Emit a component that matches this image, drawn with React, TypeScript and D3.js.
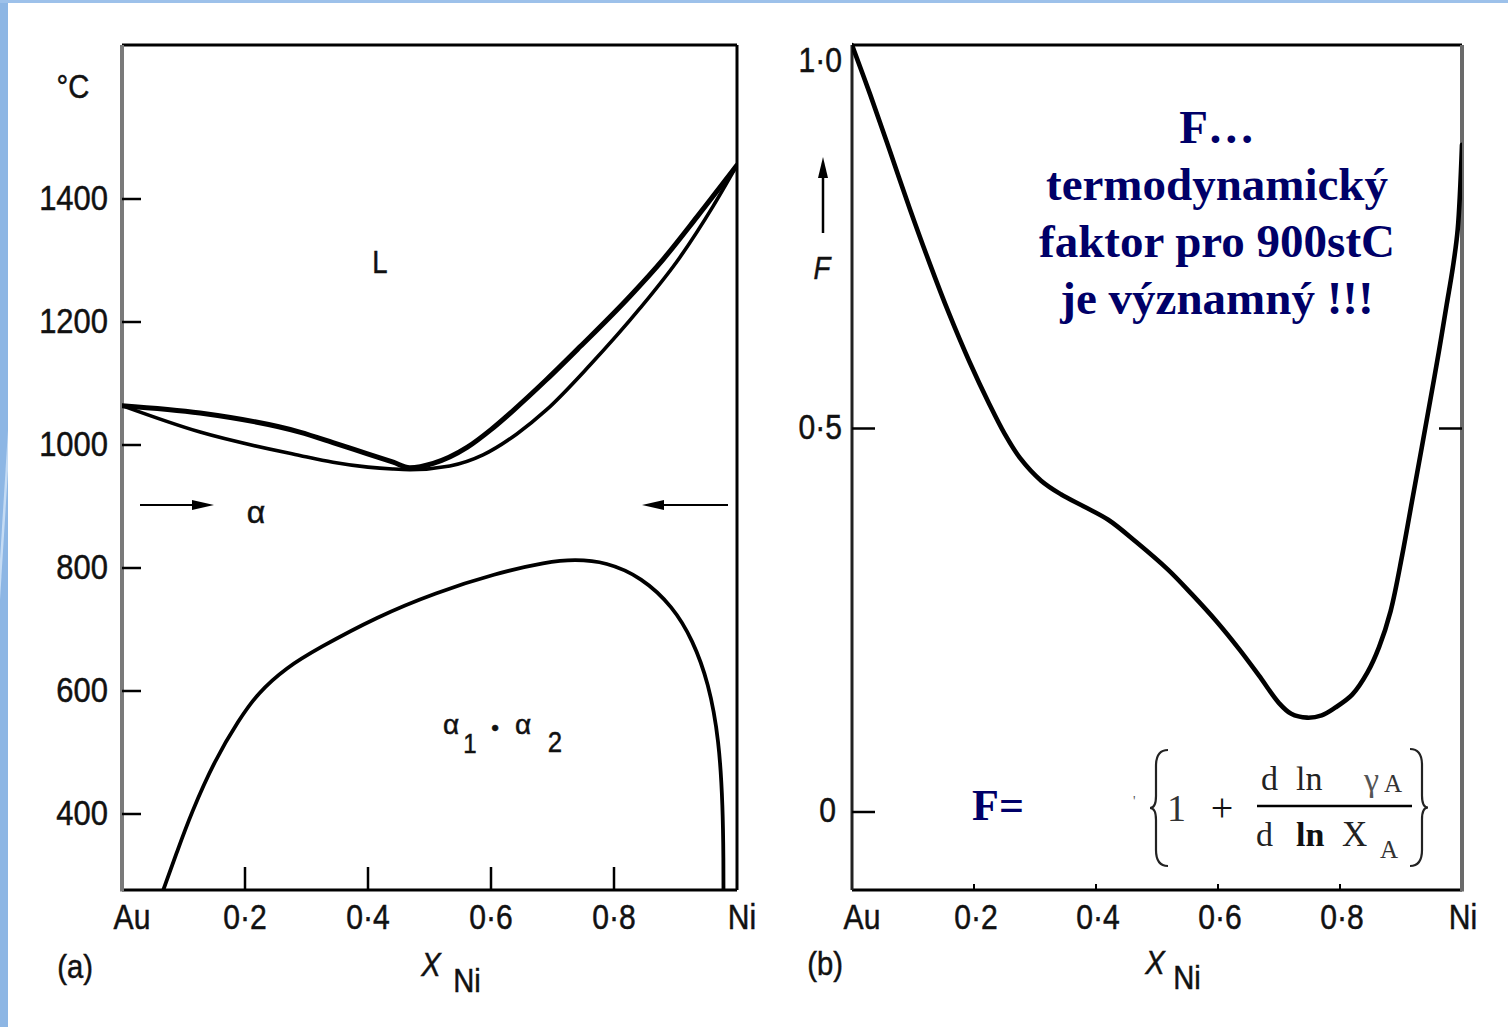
import React from 'react';
import * as d3 from 'd3';

const W = 1508;
const H = 1027;

// (a) Au–Ni phase diagram: liquidus, solidus and miscibility gap
const liquidusX = [0, 0.127, 0.289, 0.343, 0.398, 0.441, 0.468, 0.506, 0.561, 0.6, 0.636, 0.69, 0.745, 0.826, 0.88, 0.935, 1];
const liquidusT = [1064, 1052, 1021, 1004, 986, 972, 963, 970, 996, 1025, 1056, 1106, 1160, 1242, 1302, 1371, 1455];
const solidusX = [0, 0.127, 0.289, 0.343, 0.4, 0.44, 0.468, 0.533, 0.587, 0.642, 0.69, 0.761, 0.842, 0.907, 0.961, 1];
const solidusT = [1064, 1021, 983, 972, 964, 961, 960, 966, 984, 1018, 1057, 1130, 1222, 1305, 1388, 1455];
const gapX = [0.067, 0.09, 0.112, 0.151, 0.19, 0.221, 0.267, 0.318, 0.415, 0.51, 0.607, 0.691, 0.736, 0.787, 0.845, 0.896, 0.928, 0.954, 0.971, 0.977, 0.978, 0.978];
const gapT = [276, 340, 400, 488, 553, 597, 638, 669, 721, 760, 791, 810, 814, 810, 785, 737, 683, 613, 520, 411, 320, 276];

const tempTicks = [400, 600, 800, 1000, 1200, 1400];
const compTicks = [0, 0.2, 0.4, 0.6, 0.8, 1];
const compLabels = ['Au', '0·2', '0·4', '0·6', '0·8', 'Ni'];

// (b) thermodynamic factor F at 900 °C
const factorX = [0, 0.03, 0.062, 0.095, 0.127, 0.159, 0.192, 0.225, 0.251, 0.275, 0.31, 0.343, 0.381, 0.42, 0.466, 0.518, 0.557, 0.597, 0.635, 0.667, 0.7, 0.72, 0.746, 0.77, 0.792, 0.82, 0.845, 0.864, 0.883, 0.902, 0.918, 0.934, 0.948, 0.962, 0.975, 0.985, 0.993, 1.0];
const factorF = [1.0, 0.935, 0.862, 0.786, 0.716, 0.65, 0.588, 0.532, 0.492, 0.462, 0.432, 0.414, 0.398, 0.381, 0.352, 0.316, 0.284, 0.249, 0.212, 0.178, 0.142, 0.128, 0.123, 0.126, 0.136, 0.153, 0.182, 0.215, 0.262, 0.335, 0.405, 0.475, 0.537, 0.6, 0.662, 0.71, 0.76, 0.87];
const factorTicks = [0, 0.5, 1.0];
const factorLabels = ['0', '0·5', '1·0'];
const factorXTicks = [0.2, 0.4, 0.6, 0.8];

const noteLines = ['F…', 'termodynamický', 'faktor pro 900stC', 'je významný !!!'];

const frameA = { left: 122, right: 737, top: 45, bottom: 890 };
const frameB = { left: 852, right: 1462, top: 45, bottom: 890 };

const xA = d3.scaleLinear().domain([0, 1]).range([frameA.left, frameA.right]);
const yA = d3.scaleLinear().domain([400, 1400]).range([814, 199]);
const xB = d3.scaleLinear().domain([0, 1]).range([frameB.left, frameB.right]);
const yB = d3.scaleLinear().domain([0, 1]).range([812, 45]);

const SANS = '"Liberation Sans", Arial, Helvetica, sans-serif';
const SERIF = '"Liberation Serif", "Times New Roman", serif';
const NAVY = '#000068';

const zipA = (xs: number[], ts: number[]) => xs.map((x, i) => [xA(x), yA(ts[i])] as [number, number]);
const zipB = (xs: number[], fs: number[]) => xs.map((x, i) => [xB(x), yB(fs[i])] as [number, number]);

const mono = d3.line().curve(d3.curveMonotoneX);
const smooth = d3.line().curve(d3.curveCatmullRom.alpha(0.5));
const basis = d3.line().curve(d3.curveBasis);

function Lbl(props: { x: number; y: number; text: string; anchor?: string; size?: number; sx?: number; italic?: boolean }) {
  const { x, y, text, anchor = 'middle', size = 35, sx = 0.86, italic = false } = props;
  return (
    <text
      transform={`translate(${x},${y}) scale(${sx},1)`}
      textAnchor={anchor}
      dominantBaseline="central"
      fontFamily={SANS}
      fontSize={size}
      fontStyle={italic ? 'italic' : 'normal'}
      fill="#111"
      stroke="#111"
      strokeWidth={0.5}
    >
      {text}
    </text>
  );
}

function brace(xTip: number, xMid: number, y0: number, y1: number) {
  const ym = (y0 + y1) / 2;
  const s = Math.sign(xTip - xMid);
  const xb = xMid + s * 6;
  return `M${xTip},${y0} Q${xb},${y0} ${xb},${y0 + 16} L${xb},${ym - 12} Q${xb},${ym} ${xMid},${ym} Q${xb},${ym} ${xb},${ym + 12} L${xb},${y1 - 16} Q${xb},${y1} ${xTip},${y1}`;
}

function PanelA() {
  const f = frameA;
  return (
    <g>
      <defs>
        <clipPath id="clipA">
          <rect x={f.left} y={f.top} width={f.right - f.left} height={f.bottom - f.top} />
        </clipPath>
      </defs>
      {/* frame */}
      <line x1={f.left} y1={f.top} x2={f.right} y2={f.top} stroke="#000" strokeWidth={3} />
      <line x1={f.right} y1={f.top} x2={f.right} y2={f.bottom} stroke="#000" strokeWidth={3} />
      <line x1={f.left} y1={f.bottom} x2={f.right} y2={f.bottom} stroke="#000" strokeWidth={3} />
      <line x1={f.left} y1={f.top} x2={f.left} y2={f.bottom + 1.5} stroke="#7a7a7a" strokeWidth={4} />
      {/* temperature ticks */}
      {tempTicks.map((t) => (
        <g key={t}>
          <line x1={f.left} x2={f.left + 19} y1={yA(t)} y2={yA(t)} stroke="#000" strokeWidth={2.5} />
          <Lbl x={108} y={yA(t) - 1} text={String(t)} anchor="end" size={36} />
        </g>
      ))}
      {/* composition ticks */}
      {compTicks.map((c, i) => (
        <g key={c}>
          {c > 0 && c < 1 && (
            <line x1={xA(c)} x2={xA(c)} y1={f.bottom} y2={f.bottom - 23} stroke="#000" strokeWidth={2.5} />
          )}
          <Lbl x={i === 0 ? xA(c) + 10 : i === 5 ? xA(c) + 5 : xA(c)} y={917} text={compLabels[i]} size={35} />
        </g>
      ))}
      <Lbl x={73} y={86} text="°C" size={34} />
      <Lbl x={75} y={966} text="(a)" size={34} />
      <Lbl x={431} y={964} text="X" size={34} italic />
      <Lbl x={467} y={980} text="Ni" size={34} />
      {/* phase boundaries */}
      <g clipPath="url(#clipA)" fill="none" stroke="#000" strokeLinejoin="round" strokeLinecap="round">
        <path d={mono(zipA(solidusX, solidusT)) ?? ''} strokeWidth={3.6} />
        <path d={mono(zipA(liquidusX, liquidusT)) ?? ''} strokeWidth={5} />
        <path d={basis(zipA(gapX, gapT)) ?? ''} strokeWidth={3.8} />
      </g>
      {/* phase labels */}
      <Lbl x={380} y={262} text="L" size={32} />
      <Lbl x={256} y={512} text="α" size={32} sx={1} />
      {/* arrows marking the single-phase α field */}
      <line x1={140} x2={198} y1={505} y2={505} stroke="#000" strokeWidth={2} />
      <path d="M214,505 L192,500 L192,510 Z" fill="#000" />
      <line x1={728} x2={658} y1={505} y2={505} stroke="#000" strokeWidth={2} />
      <path d="M642,505 L664,500 L664,510 Z" fill="#000" />
      <Lbl x={451} y={724} text="α" size={28} sx={1} />
      <Lbl x={470} y={743} text="1" size={28} />
      <Lbl x={495} y={727} text="•" size={22} sx={1} />
      <Lbl x={523} y={724} text="α" size={28} sx={1} />
      <Lbl x={555} y={742} text="2" size={30} />
    </g>
  );
}

function PanelB() {
  const f = frameB;
  return (
    <g>
      <defs>
        <clipPath id="clipB">
          <rect x={f.left} y={f.top - 3} width={f.right - f.left} height={f.bottom - f.top + 3} />
        </clipPath>
      </defs>
      <line x1={f.left} y1={f.top} x2={f.right} y2={f.top} stroke="#000" strokeWidth={3} />
      <line x1={f.left} y1={f.bottom} x2={f.right} y2={f.bottom} stroke="#000" strokeWidth={3} />
      <line x1={f.left} y1={f.top} x2={f.left} y2={f.bottom} stroke="#222" strokeWidth={3} />
      <line x1={f.right} y1={f.top} x2={f.right} y2={f.bottom + 1.5} stroke="#6a6a6a" strokeWidth={4} />
      {factorTicks.map((v, i) => (
        <g key={v}>
          {v < 1 && <line x1={f.left} x2={f.left + 23} y1={yB(v)} y2={yB(v)} stroke="#000" strokeWidth={2.5} />}
          <Lbl x={v === 0 ? 836 : 842} y={Math.max(yB(v) - 2, 60)} text={factorLabels[i]} anchor="end" size={35} />
        </g>
      ))}
      <line x1={f.right} x2={f.right - 23} y1={yB(0.5)} y2={yB(0.5)} stroke="#000" strokeWidth={2.5} />
      {factorXTicks.map((c) => (
        <line key={c} x1={xB(c)} x2={xB(c)} y1={f.bottom} y2={f.bottom - 6} stroke="#000" strokeWidth={2} />
      ))}
      {compTicks.map((c, i) => (
        <Lbl key={c} x={i === 0 ? xB(c) + 10 : i === 5 ? xB(c) + 1 : xB(c) + 2} y={917} text={compLabels[i]} size={35} />
      ))}
      <Lbl x={825} y={963} text="(b)" size={34} />
      <Lbl x={1155} y={962} text="X" size={34} italic />
      <Lbl x={1187} y={977} text="Ni" size={34} />
      {/* F axis arrow */}
      <line x1={823} x2={823} y1={233} y2={172} stroke="#000" strokeWidth={2.5} />
      <path d="M823,157 L818,178 L828,178 Z" fill="#000" />
      <Lbl x={822} y={268} text="F" size={32} italic />
      <g clipPath="url(#clipB)" fill="none" stroke="#000" strokeLinejoin="round" strokeLinecap="round">
        <path d={smooth(zipB(factorX, factorF)) ?? ''} strokeWidth={4.6} />
      </g>
      {/* note */}
      {noteLines.map((line, i) => (
        <text
          key={i}
          x={1217}
          y={143 + i * 57}
          textAnchor="middle"
          fontFamily={SERIF}
          fontWeight="bold"
          fontSize={47}
          fill={NAVY}
        >
          {line}
        </text>
      ))}
      {/* definition of F */}
      <text x={972} y={820} fontFamily={SERIF} fontWeight="bold" fontSize={44} fill={NAVY}>F=</text>
      <text x={1133} y={806} fontFamily={SERIF} fontSize={14} fill="#555">'</text>
      <path d={brace(1168, 1150, 750, 866)} fill="none" stroke="#222" strokeWidth={2.2} />
      <path d={brace(1410, 1428, 749, 866)} fill="none" stroke="#222" strokeWidth={2.2} />
      <text x={1167} y={821} fontFamily={SERIF} fontSize={38} fill="#333">1</text>
      <text x={1222} y={821} textAnchor="middle" fontFamily={SERIF} fontSize={40} fill="#111">+</text>
      <line x1={1257} x2={1412} y1={806} y2={806} stroke="#000" strokeWidth={2.5} />
      <text x={1261} y={790} fontFamily={SERIF} fontSize={34} fill="#222">d</text>
      <text x={1296} y={790} fontFamily={SERIF} fontSize={34} fill="#222">ln</text>
      <text x={1364} y={791} fontFamily={SERIF} fontSize={34} fill="#555">γ</text>
      <text x={1384} y={792} fontFamily={SERIF} fontSize={25} fill="#333">A</text>
      <text x={1256} y={846} fontFamily={SERIF} fontSize={34} fill="#222">d</text>
      <text x={1296} y={846} fontFamily={SERIF} fontSize={34} fill="#111" fontWeight="bold">ln</text>
      <text x={1342} y={846} fontFamily={SERIF} fontSize={35} fill="#222">X</text>
      <text x={1380} y={858} fontFamily={SERIF} fontSize={25} fill="#333">A</text>
    </g>
  );
}

export default function App() {
  return (
    <svg
      width={W}
      height={H}
      viewBox={`0 0 ${W} ${H}`}
      style={{ position: 'absolute', left: 0, top: 0, background: '#fff' }}
    >
      <rect x={0} y={0} width={W} height={H} fill="#fff" />
      {/* slide border */}
      <rect x={0} y={0} width={8} height={H} fill="#8db6e4" />
      <rect x={0} y={0} width={W} height={3} fill="#9dc1ea" />
      <path d="M0,600 L8,470 L8,430 L0,560 Z" fill="#c6dcf4" />
      <PanelA />
      <PanelB />
    </svg>
  );
}
